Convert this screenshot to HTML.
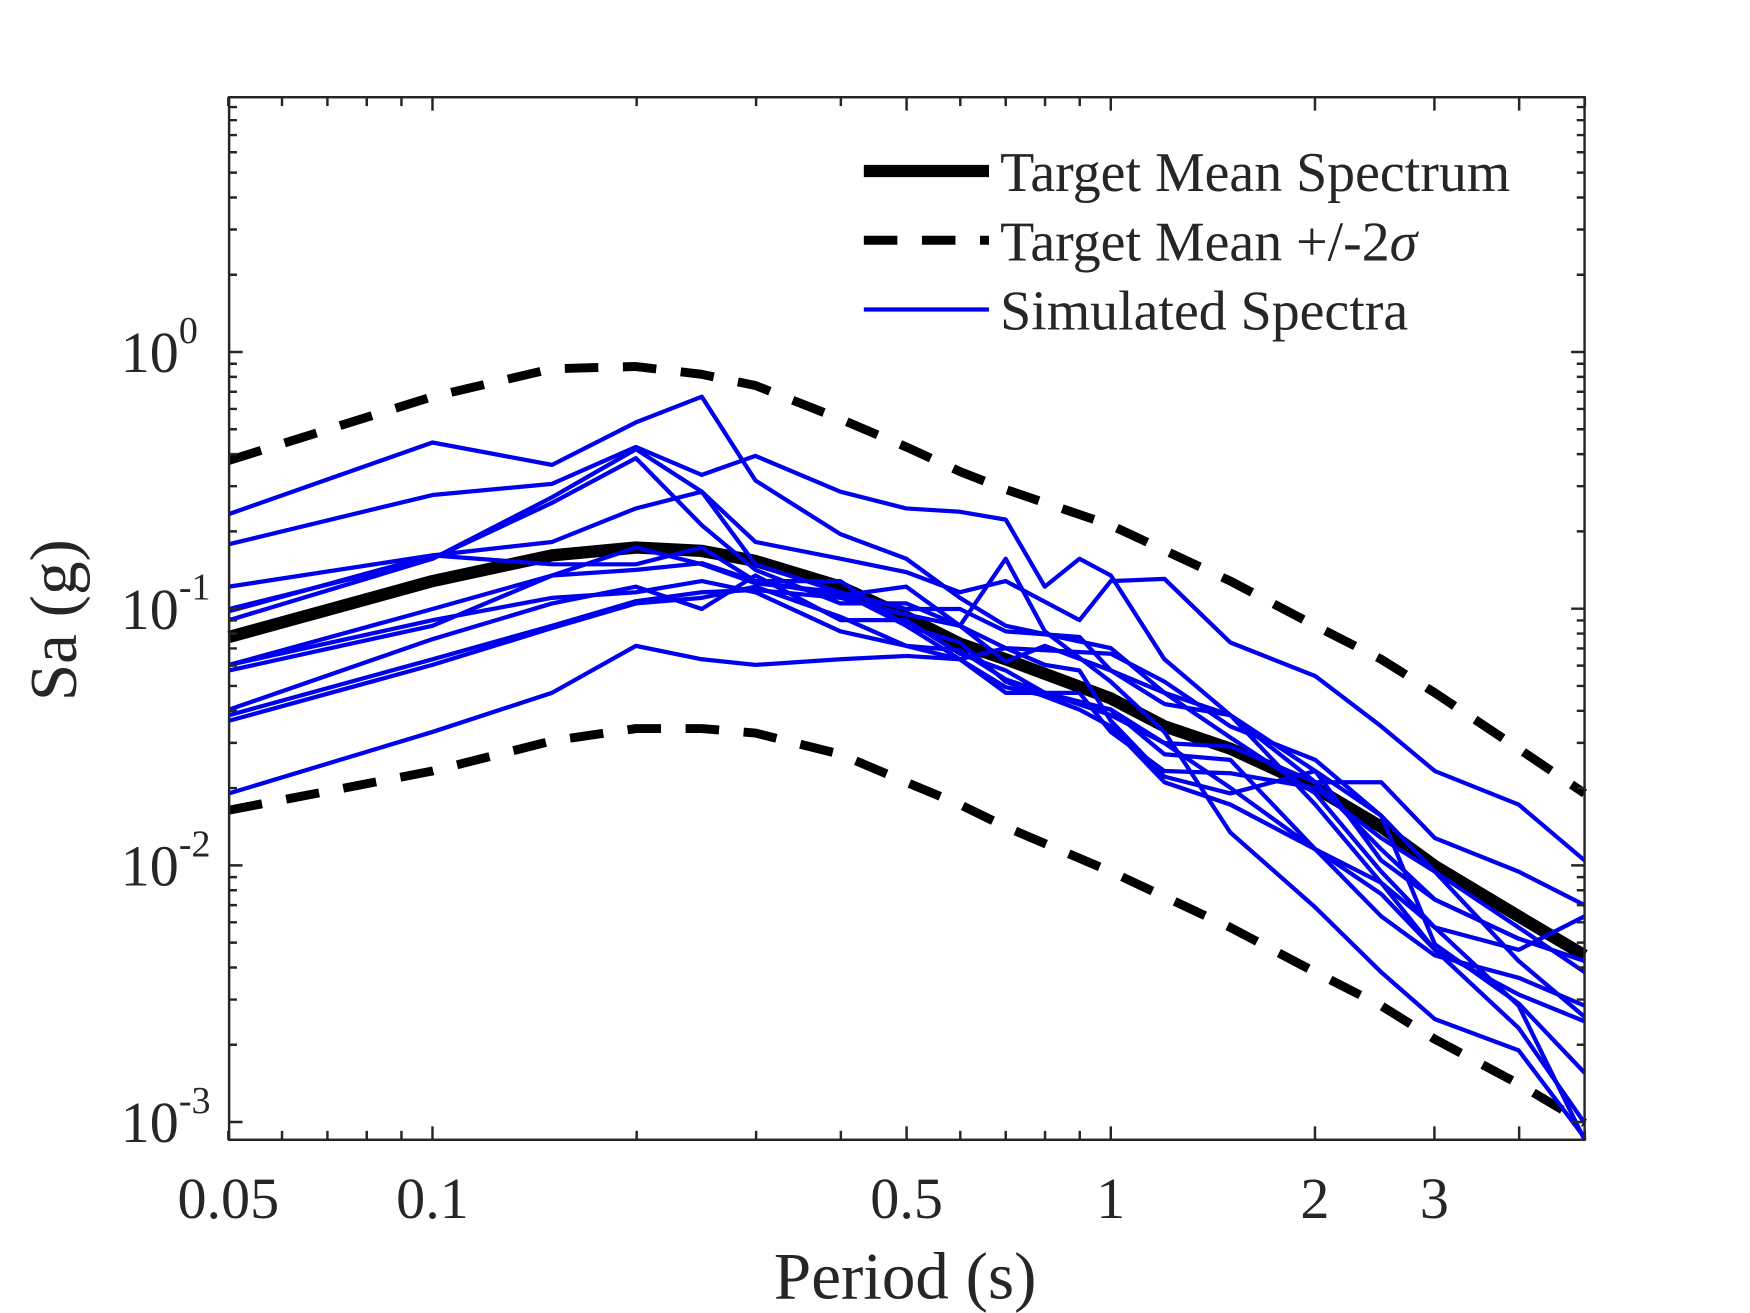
<!DOCTYPE html>
<html><head><meta charset="utf-8"><style>html,body{margin:0;padding:0;background:#fff}svg{display:block}</style></head>
<body>
<svg id="s" xmlns="http://www.w3.org/2000/svg" width="1750" height="1313" viewBox="0 0 1566 1175" font-family="'Liberation Serif', serif">
<rect width="1566" height="1175" fill="#fff"/>
<g id="data" fill="none" stroke-linejoin="round"></g>
<g id="ax" stroke="#262626" stroke-width="2.2" fill="none"></g>
<g id="txt" fill="#262626"></g>
</svg>
<script>
var NS="http://www.w3.org/2000/svg";
function el(p,t,a,txt){var e=document.createElementNS(NS,t);for(var k in a)e.setAttribute(k,a[k]);if(txt!=null)e.textContent=txt;document.getElementById(p).appendChild(e);return e;}
var L=205,R=1418,T=87,B=1020;
function X(t){return 387+607*Math.log10(t/0.1);}
function Y(v){return 315-229.7*Math.log10(v);}
function pl(pts){return pts.map(function(p){return p[0]+","+p[1]}).join(" ");}
var blues=[
[[205,460],[387,396],[494,416],[569,378],[628,355],[676,430],[752,478],[811,500],[859,535],[900,560],[994,580],[1042,620],[1101,660],[1177,710],[1236,780],[1284,830],[1359,900],[1418,1020]],
[[205,487],[387,443],[494,433],[569,400],[628,425],[676,408],[752,440],[811,455],[859,458],[900,465],[935,525],[966,500],[994,515],[1042,590],[1101,640],[1177,720],[1236,790],[1284,850],[1359,920],[1418,1005]],
[[205,525],[387,497],[494,485],[569,455],[628,440],[676,485],[752,500],[811,512],[859,530],[900,520],[966,555],[994,520],[1042,518],[1101,575],[1177,605],[1236,650],[1284,690],[1359,720],[1418,770]],
[[205,545],[387,500],[494,445],[569,402],[628,440],[676,505],[752,530],[811,545],[859,545],[900,565],[966,570],[994,600],[1042,630],[1101,640],[1177,700],[1236,700],[1284,750],[1359,780],[1418,810]],
[[205,555],[387,500],[494,450],[569,410],[628,470],[676,510],[752,540],[811,540],[859,560],[900,580],[994,585],[1042,610],[1101,650],[1177,680],[1236,730],[1284,780],[1359,830],[1418,870]],
[[205,595],[387,545],[494,515],[569,510],[628,504],[676,520],[752,520],[811,560],[859,590],[900,615],[994,635],[1042,675],[1101,680],[1177,760],[1236,790],[1284,830],[1359,850],[1418,820]],
[[205,640],[387,590],[494,560],[569,538],[628,530],[676,528],[752,535],[811,550],[859,560],[900,592],[935,578],[994,600],[1042,620],[1101,640],[1177,690],[1236,770],[1284,805],[1359,840],[1418,860]],
[[205,595],[387,555],[494,535],[569,530],[628,520],[676,530],[752,565],[811,578],[859,590],[900,620],[966,620],[994,655],[1042,690],[1101,692],[1177,705],[1236,750],[1284,780],[1359,860],[1418,910]],
[[205,635],[387,572],[494,540],[569,525],[628,545],[676,515],[752,555],[811,555],[859,585],[900,600],[935,620],[994,635],[1042,665],[1101,705],[1177,760],[1236,820],[1284,855],[1359,875],[1418,900]],
[[205,645],[387,595],[494,562],[569,540],[628,535],[676,525],[752,552],[811,578],[859,582],[900,608],[994,640],[1042,665],[1101,668],[1177,700],[1236,760],[1284,805],[1359,840],[1418,860]],
[[205,710],[387,655],[494,620],[569,578],[628,590],[676,595],[752,590],[811,587],[859,590],[900,580],[935,595],[966,600],[994,645],[1042,695],[1101,710],[1177,690],[1236,730],[1284,845],[1359,898],[1418,960]],
[[205,547],[387,497],[494,505],[569,505],[628,490],[676,520],[752,533],[811,525],[859,560],[900,500],[935,565],[994,610],[1042,655],[1101,745],[1177,812],[1236,870],[1284,912],[1359,940],[1418,1018]],
[[205,600],[387,560],[494,515],[569,490],[628,505],[676,522],[752,530],[811,560],[859,575],[900,610],[966,635],[994,650],[1042,700],[1101,720],[1177,760],[1236,800],[1284,850],[1359,890],[1418,914]]
];
var mean=[[205,570],[387,520],[494,497],[569,490],[628,493],[676,502],[752,525],[811,552],[859,576],[900,590],[994,625],[1042,650],[1101,670],[1177,705],[1236,740],[1284,775],[1359,820],[1418,855]];
var up=[[205,412],[387,355],[494,330],[569,328],[628,335],[676,345],[752,375],[811,400],[859,422],[900,438],[994,470],[1101,520],[1177,560],[1236,590],[1284,620],[1359,670],[1418,710]];
var lo=[[205,725],[387,690],[494,663],[569,652],[628,652],[676,656],[752,675],[811,700],[859,720],[900,740],[994,780],[1101,830],[1177,870],[1236,900],[1284,930],[1359,970],[1418,1005]];
el("data","polyline",{points:pl(up),stroke:"#000","stroke-width":8,"stroke-dasharray":"30,22"});
el("data","polyline",{points:pl(lo),stroke:"#000","stroke-width":8,"stroke-dasharray":"30,22"});
el("data","polyline",{points:pl(mean),stroke:"#000","stroke-width":11});
blues.forEach(function(b){el("data","polyline",{points:pl(b),stroke:"#0000ee","stroke-width":3.8});});
el("ax","rect",{x:L,y:T,width:R-L,height:B-T});
var d="";
var xt=[0.05,0.06,0.07,0.08,0.09,0.1,0.2,0.3,0.4,0.5,0.6,0.7,0.8,0.9,1,2,3,4,5];
xt.forEach(function(t){var x=X(t);var l=(t==0.1||t==1||t==0.5||t==2||t==3||t==4)?12:8;
 d+="M"+x+","+B+"v-"+l+"M"+x+","+T+"v"+l;});
for(var e=-3;e<=0;e++){for(var m=1;m<10;m++){var y=Y(m*Math.pow(10,e));if(y<T||y>B)continue;var l=m==1?12:7;d+="M"+L+","+y+"h"+l+"M"+R+","+y+"h-"+l;}}
el("ax","path",{d:d});
var xl=[[0.05,"0.05"],[0.1,"0.1"],[0.5,"0.5"],[1,"1"],[2,"2"],[3,"3"]];
xl.forEach(function(a){el("txt","text",{x:X(a[0]),y:1090,"font-size":52,"text-anchor":"middle"},a[1]);});
[[0,"0"],[-1,"-1"],[-2,"-2"],[-3,"-3"]].forEach(function(a){var y=Y(Math.pow(10,a[0]));
 el("txt","text",{x:160,y:y+18,"font-size":52,"text-anchor":"end"},"10");
 el("txt","text",{x:160,y:y-8,"font-size":34},a[1]);});
el("txt","text",{x:810,y:1162,"font-size":60,"text-anchor":"middle"},"Period (s)");
el("txt","text",{x:0,y:0,"font-size":60,"text-anchor":"middle",transform:"translate(68,555) rotate(-90)"},"Sa (g)");
el("data","line",{x1:773,y1:153,x2:885,y2:153,stroke:"#000","stroke-width":11});
el("data","line",{x1:773,y1:215,x2:885,y2:215,stroke:"#000","stroke-width":8,"stroke-dasharray":"30,22"});
el("data","line",{x1:773,y1:277,x2:885,y2:277,stroke:"#0000ee","stroke-width":3.8});
el("txt","text",{x:895,y:171,"font-size":50},"Target Mean Spectrum");
var t2=el("txt","text",{x:895,y:233,"font-size":50},"Target Mean +/-2");
var s=document.createElementNS(NS,"tspan");s.setAttribute("font-style","italic");s.textContent="σ";t2.appendChild(s);
el("txt","text",{x:895,y:295,"font-size":50},"Simulated Spectra");
</script>
</body></html>
